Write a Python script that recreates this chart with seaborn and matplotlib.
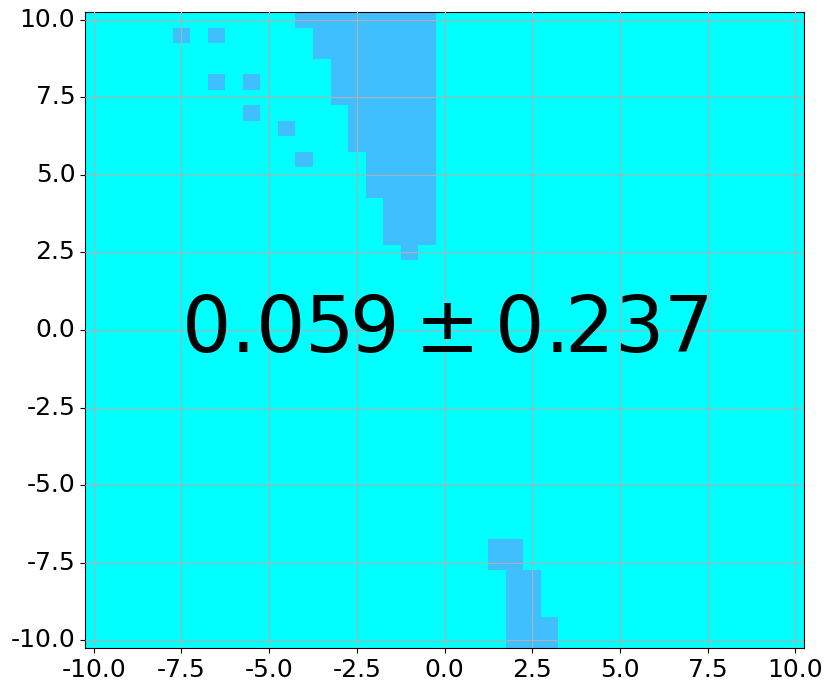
import numpy as np
import pandas as pd
import matplotlib
matplotlib.use("Agg")
import matplotlib.pyplot as plt
import seaborn as sns
from matplotlib.colors import ListedColormap

# grid of cell centres (0.5 step)
grid_x = np.arange(-10.0, 10.01, 0.5)
grid_y = np.arange(10.0, -10.01, -0.5)

# highlighted cells, stored as horizontal runs: row y, first x, last x
run_y = [10.0, 9.5, 9.0, 8.5, 8.0, 7.5, 7.0, 6.5, 6.0, 5.5, 5.0, 4.5, 4.0, 3.5, 3.0, 2.5,
         9.5, 9.5, 8.0, 8.0, 7.0, 6.5, 5.5,
         -7.0, -7.5, -8.0, -8.5, -9.0, -9.5, -10.0]
run_x0 = [-4.0, -3.5, -3.5, -3.0, -3.0, -3.0, -2.5, -2.5, -2.5, -2.0, -2.0, -2.0, -1.5, -1.5, -1.5, -1.0,
          -7.5, -6.5, -6.5, -5.5, -5.5, -4.5, -4.0,
          1.5, 1.5, 2.0, 2.0, 2.0, 2.0, 2.0]
run_x1 = [-0.5, -0.5, -0.5, -0.5, -0.5, -0.5, -0.5, -0.5, -0.5, -0.5, -0.5, -0.5, -0.5, -0.5, -0.5, -1.0,
          -7.5, -6.5, -6.5, -5.5, -5.5, -4.5, -4.0,
          2.0, 2.0, 2.5, 2.5, 2.5, 3.0, 3.0]

score_mean = 0.059
score_std = 0.237

tick_vals = [-10.0, -7.5, -5.0, -2.5, 0.0, 2.5, 5.0, 7.5, 10.0]

# build the cell table
cells = pd.DataFrame(0, index=np.round(grid_y, 2), columns=np.round(grid_x, 2))
for y, x0, x1 in zip(run_y, run_x0, run_x1):
    cols = [c for c in cells.columns if x0 - 1e-9 <= c <= x1 + 1e-9]
    cells.loc[y, cols] = 1

fig = plt.figure(figsize=(8.3, 6.9), dpi=100)
ax = fig.add_axes([0.1024, 0.0609, 0.8663, 0.9217])

sns.heatmap(cells, cmap=ListedColormap(["#00FFFF", "#40BFFF"]), vmin=0, vmax=1,
            cbar=False, ax=ax)

# heatmap uses cell indices, map the numeric ticks onto them
xt = [(v + 10.0) / 0.5 + 0.5 for v in tick_vals]
yt = [(10.0 - v) / 0.5 + 0.5 for v in tick_vals]
labels = [f"{v:.1f}" for v in tick_vals]
ax.set_xticks(xt)
ax.set_xticklabels(labels, rotation=0, fontsize=18)
ax.set_yticks(yt)
ax.set_yticklabels(labels, rotation=0, fontsize=18)
ax.set_xlabel("")
ax.set_ylabel("")
ax.tick_params(length=3.5, width=0.8, color="black", direction="out")

for s in ax.spines.values():
    s.set_visible(True)
    s.set_color("black")
    s.set_linewidth(0.8)

ax.grid(True, color="#b0b0b0", linewidth=0.8)
ax.set_axisbelow(False)

ax.text((0.0 + 10.0) / 0.5 + 0.5, (10.0 - 0.0) / 0.5 + 0.5,
        f"${score_mean:.3f} \\pm {score_std:.3f}$",
        ha="center", va="center", fontsize=56, color="black")

fig.savefig("out.png", dpi=100)
